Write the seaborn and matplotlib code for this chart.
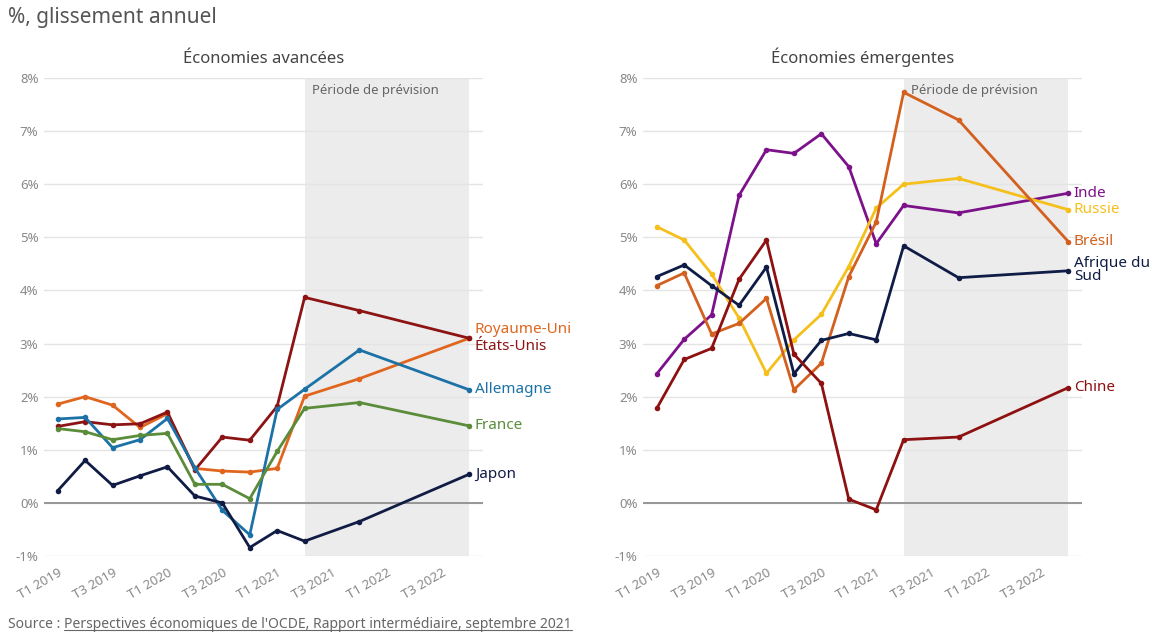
import pandas as pd
import seaborn as sns
import matplotlib.pyplot as plt
from matplotlib.ticker import FuncFormatter, FixedLocator
from matplotlib.lines import Line2D

# Axe des trimestres (T1 2019 .. T4 2022)
trimestres = [f"T{q} {a}" for a in (2019, 2020, 2021, 2022) for q in (1, 2, 3, 4)]
etiquettes_x = [t if t.startswith(("T1", "T3")) else "" for t in trimestres]

# Trimestres des observations / prévisions
points = ["T1 2019", "T2 2019", "T3 2019", "T4 2019", "T1 2020", "T2 2020",
          "T3 2020", "T4 2020", "T1 2021", "T2 2021", "T4 2021", "T4 2022"]
debut_prevision = "T2 2021"

# Économies avancées (% glissement annuel)
royaume_uni = [1.86, 2.00, 1.84, 1.42, 1.68, 0.65, 0.60, 0.58, 0.65, 2.01, 2.34, 3.10]
etats_unis = [1.44, 1.53, 1.47, 1.49, 1.71, 0.62, 1.24, 1.18, 1.82, 3.87, 3.62, 3.10]
allemagne = [1.58, 1.61, 1.04, 1.19, 1.59, 0.66, -0.14, -0.60, 1.76, 2.14, 2.88, 2.13]
france = [1.40, 1.34, 1.19, 1.27, 1.31, 0.35, 0.35, 0.08, 0.97, 1.78, 1.89, 1.45]
japon = [0.23, 0.80, 0.33, 0.51, 0.68, 0.13, 0.00, -0.84, -0.52, -0.72, -0.35, 0.54]

# Économies émergentes
inde = [2.43, 3.08, 3.54, 5.79, 6.65, 6.58, 6.95, 6.33, 4.88, 5.60, 5.46, 5.83]
russie = [5.20, 4.95, 4.31, 3.48, 2.44, 3.07, 3.55, 4.45, 5.55, 6.00, 6.11, 5.52]
bresil = [4.09, 4.33, 3.18, 3.38, 3.85, 2.13, 2.63, 4.26, 5.29, 7.73, 7.21, 4.92]
afrique_du_sud = [4.26, 4.48, 4.09, 3.72, 4.44, 2.43, 3.06, 3.19, 3.07, 4.84, 4.24, 4.37]
chine = [1.78, 2.70, 2.91, 4.21, 4.95, 2.80, 2.25, 0.07, -0.13, 1.19, 1.24, 2.17]

panneaux = [
    ("Économies avancées", {
        "Royaume-Uni": royaume_uni, "États-Unis": etats_unis,
        "Allemagne": allemagne, "France": france, "Japon": japon}),
    ("Économies émergentes", {
        "Inde": inde, "Russie": russie, "Brésil": bresil,
        "Afrique du\nSud": afrique_du_sud, "Chine": chine}),
]

couleurs = {
    "Royaume-Uni": "#e0661f", "États-Unis": "#8c1414", "Allemagne": "#1c72a6",
    "France": "#5a8c3a", "Japon": "#111c45",
    "Inde": "#7c128a", "Russie": "#f5bf1c", "Brésil": "#d3601e",
    "Afrique du\nSud": "#0f1c45", "Chine": "#8e1111",
}
# décalage vertical des étiquettes (points)
decalage = {"Royaume-Uni": 6.5, "États-Unis": -6.0, "Afrique du\nSud": 0.5}

sns.set_theme(style="white")
plt.rcParams["font.family"] = ["Noto Sans", "DejaVu Sans"]

fig = plt.figure(figsize=(11.52, 6.33), dpi=100)
positions = [[0.0382, 0.1216, 0.381, 0.7552], [0.5582, 0.1216, 0.381, 0.7552]]

for (titre, series), pos in zip(panneaux, positions):
    ax = fig.add_axes(pos)
    lignes = []
    for pays, valeurs in series.items():
        for t, v in zip(points, valeurs):
            lignes.append({"pays": pays, "x": trimestres.index(t), "valeur": v})
    df = pd.DataFrame(lignes)

    x0 = trimestres.index(debut_prevision)
    ax.axvspan(x0, len(trimestres) - 1, color="#ececec", zorder=0, lw=0)
    ax.annotate("Période de prévision", xy=(x0, 1), xycoords=("data", "axes fraction"),
                xytext=(5, -4), textcoords="offset points", ha="left", va="top",
                fontsize=9.5, color="#666666")

    for y in range(-1, 9):
        ax.axhline(y, color="#e4e4e4", lw=1, zorder=0.5)
    ax.axhline(0, color="#888888", lw=1.2, zorder=0.6)

    sns.lineplot(data=df, x="x", y="valeur", hue="pays", palette=couleurs,
                 hue_order=list(series.keys()), marker="o", markersize=4,
                 markeredgewidth=0, linewidth=2, legend=False, ax=ax, zorder=3)

    for pays, valeurs in series.items():
        ax.annotate(pays, xy=(trimestres.index(points[-1]), valeurs[-1]),
                    xytext=(4, decalage.get(pays, 0)), textcoords="offset points",
                    ha="left", va="center", fontsize=11, color=couleurs[pays],
                    linespacing=0.85, annotation_clip=False)

    ax.set_xlim(-0.5, len(trimestres) - 0.5)
    ax.set_ylim(-1, 8)
    ax.xaxis.set_major_locator(FixedLocator(range(len(trimestres))))
    ax.set_xticklabels(etiquettes_x, rotation=30, ha="right", rotation_mode="anchor",
                       fontsize=9.5, color="#888888")
    ax.yaxis.set_major_locator(FixedLocator(range(-1, 9)))
    ax.yaxis.set_major_formatter(FuncFormatter(lambda v, p: f"{int(v)}%"))
    ax.tick_params(axis="x", length=4, width=1, color="#bbbbbb", pad=3)
    ax.tick_params(axis="y", length=0, pad=4, labelsize=9.5, labelcolor="#888888")
    ax.set_xlabel("")
    ax.set_ylabel("")
    for s in ax.spines.values():
        s.set_visible(False)
    ax.set_title(titre, fontsize=12, color="#444444", pad=11)

fig.text(8 / 1152, 1 - 18 / 633, "%, glissement annuel", fontsize=15,
         color="#555555", va="center", ha="left")

y_src = 1 - 628 / 633
t1 = fig.text(8 / 1152, y_src, "Source : ", fontsize=10, color="#666666",
              va="baseline", ha="left")
fig.canvas.draw()
r = fig.canvas.get_renderer()
bb = t1.get_window_extent(r)
t2 = fig.text(bb.x1 / 1152, y_src,
              "Perspectives économiques de l'OCDE, Rapport intermédiaire, septembre 2021",
              fontsize=10, color="#666666", va="baseline", ha="left")
fig.canvas.draw()
bb2 = t2.get_window_extent(r)
ys = y_src - 2 / 633
fig.add_artist(Line2D([bb2.x0 / 1152, bb2.x1 / 1152], [ys, ys], color="#666666",
                      lw=0.8, transform=fig.transFigure))

fig.savefig("out.png", dpi=100)
